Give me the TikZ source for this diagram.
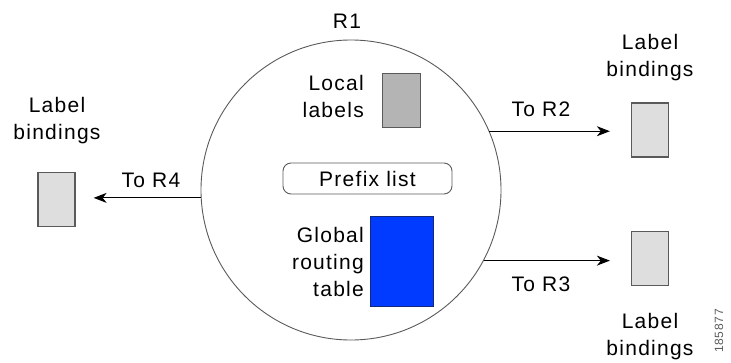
\documentclass[tikz,border=0pt]{standalone}
\usepackage{fontspec}
\setmainfont[LetterSpace=6]{Liberation Sans}
\usetikzlibrary{arrows.meta}
\definecolor{bluefill}{RGB}{0,59,255}
\definecolor{blueedge}{RGB}{20,40,120}
\definecolor{localgray}{RGB}{180,180,180}
\definecolor{bindgray}{RGB}{222,222,222}
\definecolor{edgegray}{RGB}{90,90,90}
\begin{document}
\begin{tikzpicture}[x=1pt,y=-1pt,
  txt/.style={font=\fontsize{21}{27}\selectfont, inner sep=0pt, align=center},
  rtxt/.style={font=\fontsize{21}{27}\selectfont, inner sep=0pt, align=right, anchor=east},
  bindbox/.style={draw=edgegray, line width=1.3pt, fill=bindgray, minimum width=37pt, minimum height=54pt, inner sep=0pt},
  localbox/.style={draw=edgegray, line width=1.3pt, fill=localgray, minimum width=38pt, minimum height=54pt, inner sep=0pt},
  arr/.style={-{Stealth[length=13pt,width=10pt,inset=4pt]}, line width=1pt, black}]
\useasboundingbox (0,0) rectangle (731,362);
\node[circle, draw=edgegray, line width=0.9pt, minimum size=300pt, inner sep=0pt] (r1) at (351,190) {};
\node[txt] (r1t) at (347,21) {R1};
\node[localbox] (loc) at (401.5,100.5) {};
\node[rtxt] (loct) at (364,96) {Local\\labels};
\node[draw=edgegray, line width=0.9pt, rounded corners=8pt, minimum width=169pt, minimum height=31pt, inner sep=0pt, font=\fontsize{21}{27}\selectfont] (pl) at (367.5,178.5) {Prefix list};
\node[draw=blueedge, line width=1pt, fill=bluefill, minimum width=63pt, minimum height=90pt, inner sep=0pt] (grt) at (401.5,261) {};
\node[rtxt] (grtt) at (364,262) {Global\\routing\\table};
\node[bindbox] (b4) at (56.5,199.5) {};
\node[txt] (b4t) at (57,121) {Label\\bindings};
\node[bindbox] (b2) at (650,130) {};
\node[txt] (b2t) at (650,58) {Label\\bindings};
\node[bindbox] (b3) at (650,258.5) {};
\node[txt] (b3t) at (650,337) {Label\\bindings};
\draw[arr, shorten >=18pt] (r1.183) -- (b4.east |- r1.183);
\node[txt] (r4t) at (151,180) {To R4};
\draw[arr, shorten >=21pt] (r1.23) -- (b2.west |- r1.23);
\node[txt] (r2t) at (541,109) {To R2};
\draw[arr, shorten >=21pt] (r1.332) -- (b3.west |- r1.332);
\node[txt] (r3t) at (541,284) {To R3};
\node[font=\fontsize{12}{12}\selectfont, inner sep=0pt, rotate=90, text=edgegray] (fig) at (719,331) {185877};
\end{tikzpicture}
\end{document}
